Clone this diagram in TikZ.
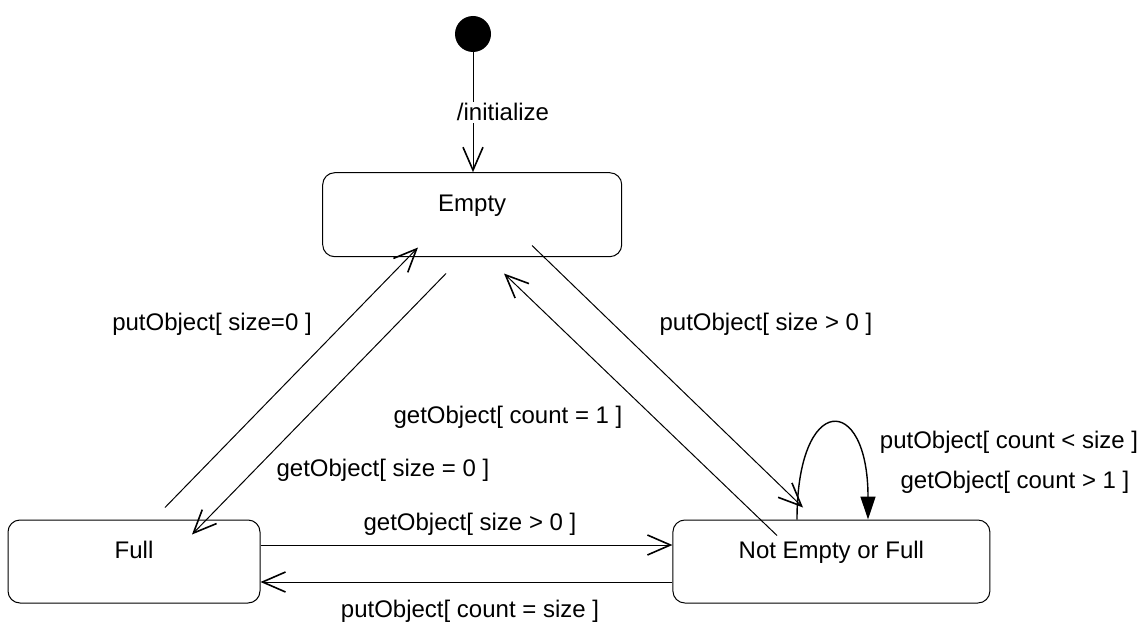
\documentclass[tikz,border=0pt]{standalone}
\usepackage{fontspec}
\setmainfont{Liberation Sans}
\usetikzlibrary{arrows.meta,calc}

\begin{document}
\begin{tikzpicture}[
  x=0.5pt, y=-0.5pt,
  font=\fontsize{12pt}{14pt}\selectfont,
  statebox/.style={rectangle, rounded corners=6pt, draw=black, line width=0.5pt,
                   inner sep=0pt, text height=6pt, text depth=9pt},
  startdot/.style={circle, fill=black, inner sep=0pt, minimum size=18pt},
  trans/.style={anchor=base, inner sep=1pt},
  ar/.style={-{Straight Barb[length=11.5pt, width=10pt, line width=0.8pt]}, line width=0.5pt},
  loopar/.style={-{Triangle[length=11.5pt, width=7.5pt]}, line width=0.7pt}
]
\useasboundingbox (0,0) rectangle (1146,626);

% states
\node[startdot] (init) at (473,34) {};
\node[statebox, minimum width=149.5pt, minimum height=42pt] (empty) at (472.2,214.7) {Empty};
\node[statebox, minimum width=126pt, minimum height=41.5pt] (full) at (134,561.5) {Full};
\node[statebox, minimum width=158.5pt, minimum height=41.5pt] (nef) at (831.4,561.5) {Not Empty or Full};

% transitions
\draw[ar] (init) -- (init |- empty.north);
\node[trans, fill=white] (initlbl) at (503,121) {/initialize};

\draw[ar] ($(full.north)+(31,-12)$) -- ($(empty.south)+(-54.2,-9.7)$);
\draw[ar] ($(empty.south)+(-26.2,16.3)$) -- ($(full.north)+(58,15)$);
\draw[ar] ($(empty.south)+(59.8,-11.7)$) -- ($(nef.north)+(-28.4,-12)$);
\draw[ar] ($(nef.north)+(-54.4,16)$) -- ($(empty.south)+(31.8,16.3)$);
\draw[ar] ($(full.east)+(0,-16.5)$) -- ($(nef.west)+(0,-16.5)$);
\draw[ar] ($(nef.west)+(0,20.5)$) -- ($(full.east)+(0,20.5)$);
\draw[loopar] ($(nef.north)+(-34.4,0)$) .. controls +(0,-127) and +(0,-127) .. ($(nef.north)+(36.6,0)$);

% guards
\node[trans] (g1) at (212,330) {putObject[ size=0 ]};
\node[trans] (g2) at (766,330) {putObject[ size > 0 ]};
\node[trans] (g3) at (508,423) {getObject[ count = 1 ]};
\node[trans] (g4) at (383,476) {getObject[ size = 0 ]};
\node[trans] (g5) at (470,530) {getObject[ size > 0 ]};
\node[trans] (g6) at (470,617) {putObject[ count = size ]};
\node[trans] (g7) at (1009,448) {putObject[ count < size ]};
\node[trans] (g8) at (1015,488) {getObject[ count > 1 ]};
\end{tikzpicture}
\end{document}
